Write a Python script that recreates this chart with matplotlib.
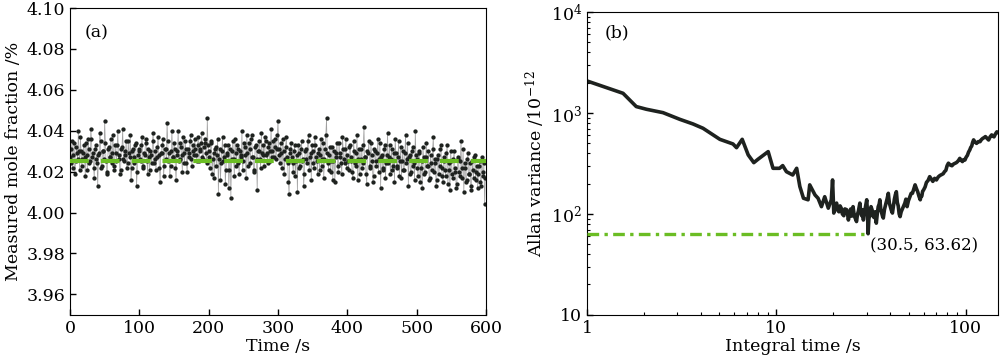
import numpy as np
import matplotlib
matplotlib.use('Agg')
from matplotlib import pyplot as plt
from matplotlib.ticker import FixedLocator, FuncFormatter, NullFormatter

plt.rcParams['font.family'] = ['DejaVu Serif']
plt.rcParams['mathtext.fontset'] = 'dejavuserif'

# (a) measured mole fraction, 1 s sampling (even and odd seconds)
frac_even = [
    4.027, 4.031, 4.022, 4.034, 4.025, 4.029, 4.040, 4.021, 4.030, 4.026,
    4.033, 4.018, 4.028, 4.036, 4.024, 4.041, 4.027, 4.022, 4.031, 4.026,
    4.013, 4.029, 4.035, 4.023, 4.030, 4.045, 4.025, 4.020, 4.032, 4.027,
    4.024, 4.038, 4.021, 4.029, 4.033, 4.026, 4.019, 4.031, 4.041, 4.025,
    4.028, 4.022, 4.035, 4.027, 4.016, 4.030, 4.024, 4.033, 4.013, 4.028,
    4.031, 4.025, 4.037, 4.022, 4.028, 4.034, 4.019, 4.027, 4.030, 4.024,
    4.039, 4.026, 4.021, 4.032, 4.028, 4.015, 4.029, 4.036, 4.023, 4.031,
    4.044, 4.025, 4.018, 4.030, 4.027, 4.034, 4.022, 4.028, 4.040, 4.026,
    4.032, 4.020, 4.029, 4.035, 4.024, 4.031, 4.027, 4.038, 4.023, 4.030,
    4.036, 4.028, 4.033, 4.025, 4.031, 4.039, 4.026, 4.034, 4.029, 4.046,
    4.030, 4.022, 4.035, 4.026, 4.017, 4.032, 4.028, 4.009, 4.031, 4.024,
    4.037, 4.027, 4.014, 4.029, 4.033, 4.021, 4.007, 4.030, 4.026, 4.036,
    4.023, 4.031, 4.019, 4.028, 4.040, 4.025, 4.032, 4.017, 4.029, 4.034,
    4.024, 4.038, 4.027, 4.021, 4.033, 4.011, 4.030, 4.026, 4.039, 4.028,
    4.023, 4.035, 4.029, 4.032, 4.025, 4.041, 4.030, 4.027, 4.036, 4.031,
    4.045, 4.028, 4.034, 4.022, 4.030, 4.026, 4.037, 4.024, 4.009, 4.031,
    4.027, 4.020, 4.033, 4.025, 4.010, 4.029, 4.023, 4.035, 4.026, 4.019,
    4.031, 4.024, 4.038, 4.027, 4.016, 4.030, 4.022, 4.033, 4.025, 4.029,
    4.021, 4.036, 4.026, 4.017, 4.031, 4.046, 4.024, 4.028, 4.020, 4.032,
    4.025, 4.015, 4.029, 4.023, 4.034, 4.027, 4.019, 4.031, 4.024, 4.036,
    4.028, 4.021, 4.033, 4.025, 4.017, 4.030, 4.023, 4.038, 4.026, 4.019,
    4.031, 4.024, 4.042, 4.027, 4.014, 4.029, 4.022, 4.034, 4.025, 4.018,
    4.030, 4.023, 4.036, 4.026, 4.012, 4.028, 4.021, 4.033, 4.024, 4.039,
    4.027, 4.019, 4.031, 4.023, 4.015, 4.029, 4.022, 4.035, 4.025, 4.017,
    4.030, 4.021, 4.038, 4.026, 4.013, 4.028, 4.020, 4.032, 4.024, 4.040,
    4.026, 4.018, 4.030, 4.022, 4.012, 4.027, 4.020, 4.034, 4.023, 4.016,
    4.028, 4.021, 4.037, 4.024, 4.013, 4.026, 4.019, 4.031, 4.022, 4.015,
    4.027, 4.018, 4.033, 4.021, 4.011, 4.025, 4.017, 4.030, 4.020, 4.014,
    4.026, 4.018, 4.035, 4.022, 4.010, 4.024, 4.016, 4.029, 4.019, 4.013,
    4.025, 4.017, 4.028, 4.020, 4.012, 4.023, 4.015, 4.027, 4.018, 4.004,
]
frac_odd = [
    4.024, 4.035, 4.028, 4.019, 4.032, 4.026, 4.030, 4.037, 4.023, 4.029,
    4.027, 4.034, 4.021, 4.031, 4.025, 4.036, 4.029, 4.017, 4.033, 4.024,
    4.028, 4.039, 4.022, 4.030, 4.026, 4.034, 4.019, 4.031, 4.027, 4.036,
    4.029, 4.023, 4.033, 4.025, 4.040, 4.028, 4.021, 4.032, 4.026, 4.030,
    4.035, 4.024, 4.029, 4.038, 4.022, 4.031, 4.027, 4.034, 4.020, 4.030,
    4.026, 4.033, 4.023, 4.029, 4.036, 4.025, 4.031, 4.021, 4.028, 4.035,
    4.024, 4.030, 4.027, 4.037, 4.022, 4.029, 4.033, 4.018, 4.031, 4.026,
    4.035, 4.029, 4.023, 4.040, 4.027, 4.031, 4.016, 4.030, 4.025, 4.034,
    4.028, 4.037, 4.024, 4.031, 4.020, 4.029, 4.035, 4.026, 4.033, 4.028,
    4.031, 4.025, 4.037, 4.030, 4.034, 4.027, 4.032, 4.036, 4.024, 4.033,
    4.027, 4.034, 4.019, 4.029, 4.031, 4.023, 4.036, 4.026, 4.016, 4.030,
    4.025, 4.033, 4.021, 4.028, 4.012, 4.031, 4.026, 4.035, 4.018, 4.029,
    4.033, 4.024, 4.030, 4.027, 4.021, 4.034, 4.028, 4.038, 4.023, 4.031,
    4.036, 4.027, 4.020, 4.032, 4.026, 4.030, 4.035, 4.022, 4.029, 4.033,
    4.037, 4.028, 4.024, 4.034, 4.030, 4.027, 4.035, 4.032, 4.026, 4.038,
    4.031, 4.024, 4.029, 4.036, 4.019, 4.032, 4.027, 4.015, 4.029, 4.034,
    4.024, 4.030, 4.018, 4.028, 4.033, 4.022, 4.031, 4.025, 4.013, 4.030,
    4.026, 4.035, 4.021, 4.029, 4.033, 4.024, 4.037, 4.027, 4.019, 4.031,
    4.028, 4.023, 4.034, 4.026, 4.038, 4.029, 4.021, 4.032, 4.025, 4.016,
    4.030, 4.027, 4.034, 4.020, 4.029, 4.024, 4.037, 4.026, 4.031, 4.022,
    4.025, 4.032, 4.027, 4.020, 4.035, 4.024, 4.029, 4.016, 4.031, 4.026,
    4.022, 4.033, 4.027, 4.019, 4.030, 4.035, 4.023, 4.028, 4.015, 4.031,
    4.025, 4.029, 4.020, 4.034, 4.027, 4.022, 4.031, 4.017, 4.028, 4.024,
    4.033, 4.026, 4.021, 4.029, 4.036, 4.023, 4.027, 4.018, 4.032, 4.025,
    4.021, 4.029, 4.024, 4.034, 4.027, 4.019, 4.030, 4.023, 4.016, 4.028,
    4.022, 4.029, 4.015, 4.025, 4.032, 4.019, 4.027, 4.023, 4.030, 4.017,
    4.024, 4.031, 4.020, 4.026, 4.016, 4.028, 4.023, 4.033, 4.018, 4.025,
    4.021, 4.029, 4.014, 4.024, 4.030, 4.019, 4.026, 4.022, 4.012, 4.027,
    4.020, 4.025, 4.017, 4.031, 4.022, 4.015, 4.026, 4.019, 4.024, 4.011,
    4.021, 4.027, 4.016, 4.023, 4.019, 4.025, 4.013, 4.020, 4.024, 4.017,
]
mean_a = 4.0254

# (b) Allan variance vs integral time
tau_b = [1.0, 1.55, 1.82, 2.06, 2.52, 3.09, 3.63, 4.1, 5.03, 5.9, 6.16, 6.6,
         7.1, 7.6, 8.0, 9.05, 9.6, 10.4, 10.8, 11.3, 12.2, 12.8, 13.3, 13.9,
         14.7, 15.0, 16.0, 16.6, 17.3, 18.0, 18.8, 19.5, 19.8,
         20.1, 20.4, 20.8, 21.1, 21.4, 21.7, 22.0, 22.3, 22.7, 23.0, 23.5,
         23.8, 24.0, 24.4, 24.7, 25.0, 25.4, 25.7, 26.0, 26.5, 26.8, 27.1,
         27.6, 27.9, 28.2, 28.5, 28.8, 29.1, 29.4, 29.7, 30.0, 30.3, 30.5,
         30.8, 31.2, 31.6, 32.0, 32.4, 32.8, 33.2, 33.7, 34.1, 34.5, 34.9,
         35.2, 35.6, 36.0, 36.4, 36.7, 37.2, 37.8, 38.4, 39.0, 39.5, 40.0,
         40.5, 41.0, 41.5, 42.0, 42.5, 43.0, 43.5, 44.0, 44.5, 45.0, 45.6,
         46.3, 47.0, 47.7, 48.3, 49.0, 49.8, 50.7, 51.5, 52.3, 53.1, 54.0,
         54.9, 55.8, 56.6, 57.5, 58.0, 58.6, 59.2, 59.8, 61.0, 62.0, 63.3,
         64.5, 65.7, 67.0, 68.5, 70.0, 71.5, 73.0, 74.5, 76.0, 77.2, 78.5,
         79.7, 81.0, 82.8, 84.5, 86.2, 88.0, 89.2, 90.5, 91.7, 93.0, 94.5,
         96.0, 97.5, 99.0, 100.5, 102.0, 103.5, 105.0, 106.2, 107.5, 108.7,
         110.0, 112.0, 114.0, 116.5, 119.0, 121.0, 123.0, 125.0, 127.0,
         129.5, 132.0, 134.5, 137.0, 139.0, 141.0, 143.5, 146.0, 148.0]
avar_b = [2075, 1566, 1157, 1088, 1007, 865, 778, 705, 548, 493, 453, 548,
          384, 322, 348, 414, 283, 283, 301, 262, 243, 283, 187, 143,
          138, 194, 154, 143, 118, 148, 114, 138, 217,
          102, 118, 128, 108, 105, 120, 114, 100, 96, 112, 110,
          98, 87, 104, 112, 95, 118, 100, 92, 84, 99, 106,
          128, 103, 96, 110, 87, 100, 112, 124, 138, 100, 63.62,
          90, 98, 118, 110, 95, 92, 105, 81, 100, 118, 125,
          138, 110, 102, 94, 91, 110, 125, 140, 160, 128, 118,
          108, 102, 120, 140, 155, 166, 130, 120, 100, 94, 105,
          112, 120, 128, 140, 118, 135, 148, 160, 160, 175, 194,
          178, 165, 150, 138, 150, 150, 168, 172, 185, 205, 215,
          234, 222, 210, 225, 217, 232, 240, 245, 250, 262, 270,
          300, 318, 305, 300, 312, 318, 322, 330, 340, 355, 340,
          330, 345, 342, 365, 380, 410, 430, 455, 470, 510,
          541, 515, 500, 520, 520, 545, 560, 570, 583,
          560, 540, 580, 606, 590, 580, 620, 650, 640]
tau_min, avar_min = 30.5, 63.62

green = '#6bbd24'
dark = '#1e221f'

t_a = np.arange(0, 600)
frac_a = np.empty(600)
frac_a[0::2] = frac_even
frac_a[1::2] = frac_odd

fig = plt.figure(figsize=(10, 3.64), dpi=100)

# ---- (a)
ax1 = fig.add_axes([0.070, 0.135, 0.416, 0.843])
ax1.plot(t_a, frac_a, '-', color='#a0a0a0', lw=0.5, zorder=1)
ax1.plot(t_a, frac_a, 'o', color=dark, ms=3.1, mec='none', zorder=2)
ax1.plot([0, 600], [mean_a, mean_a], color=green, lw=3.0,
         dashes=(4.5, 2.9), zorder=3)
ax1.set_xlim(0, 600)
ax1.set_ylim(3.95, 4.10)
ax1.set_xticks([0, 100, 200, 300, 400, 500, 600])
ax1.set_yticks(np.round(np.arange(3.96, 4.101, 0.02), 2))
ax1.yaxis.set_major_formatter(FuncFormatter(lambda v, p: '%.2f' % v))
ax1.tick_params(direction='in', length=4, width=1, labelsize=12.5)
ax1.set_xlabel('Time /s', fontsize=12.5, labelpad=1)
ax1.set_ylabel('Measured mole fraction /%', fontsize=12.5, labelpad=3)
ax1.text(39, 4.0878, '(a)', fontsize=12.5, va='center', ha='center')

# ---- (b)
ax2 = fig.add_axes([0.587, 0.135, 0.411, 0.832])
ax2.plot(tau_b, avar_b, '-', color=dark, lw=2.6, zorder=2)
ax2.plot([1, tau_min], [avar_min, avar_min], color=green, lw=2.4,
         dashes=(3.5, 1.6, 1.0, 1.6), zorder=3)
ax2.set_xscale('log')
ax2.set_yscale('log')
ax2.set_xlim(1, 148)
ax2.set_ylim(10, 1e4)
ax2.xaxis.set_major_locator(FixedLocator([1, 10, 100]))
ax2.xaxis.set_major_formatter(FuncFormatter(lambda v, p: '%d' % v))
ax2.xaxis.set_minor_formatter(NullFormatter())
ax2.yaxis.set_major_locator(FixedLocator([10, 100, 1000, 10000]))
ax2.yaxis.set_major_formatter(FuncFormatter(
    lambda v, p: '10' if v < 50 else r'$10^{%d}$' % round(np.log10(v))))
ax2.yaxis.set_minor_formatter(NullFormatter())
ax2.tick_params(which='both', direction='in', labelsize=12.5)
ax2.tick_params(which='major', length=4, width=1)
ax2.tick_params(which='minor', length=2.5, width=0.8)
ax2.set_xlabel('Integral time /s', fontsize=12.5, labelpad=1)
ax2.set_ylabel(r'Allan variance /10$^{-12}$', fontsize=12.5, labelpad=3)
ax2.text(1.44, 6200, '(b)', fontsize=12.5, va='center', ha='center')
ax2.annotate('(30.5, 63.62)', xy=(tau_min, avar_min), xytext=(60, 48),
             fontsize=12, ha='center', va='center')

fig.savefig('out.png', dpi=100)
